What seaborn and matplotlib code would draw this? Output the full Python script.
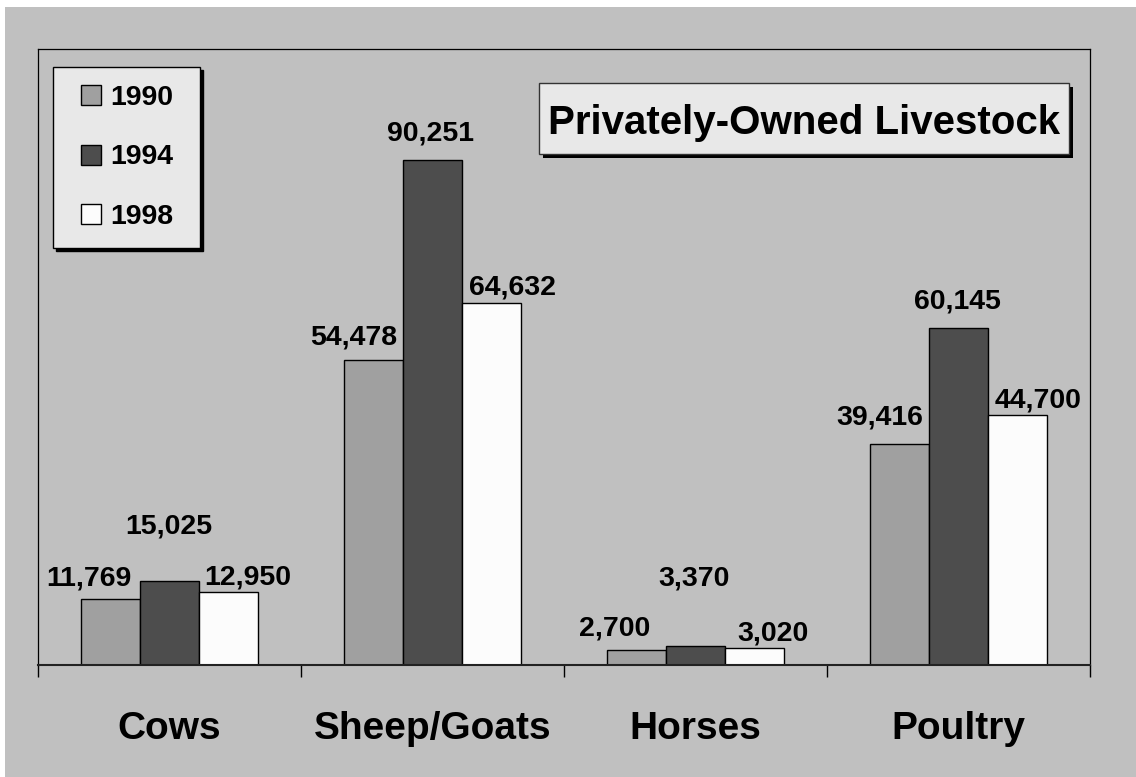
import matplotlib
matplotlib.use("Agg")
import matplotlib.pyplot as plt
import matplotlib.patches as mpatches
from matplotlib.legend_handler import HandlerPatch
from matplotlib.ticker import FixedLocator
import seaborn as sns
import pandas as pd

# ---------------- data ----------------
animals = ["Cows", "Sheep/Goats", "Horses", "Poultry"]
years = ["1990", "1994", "1998"]
counts_1990 = [11769, 54478, 2700, 39416]
counts_1994 = [15025, 90251, 3370, 60145]
counts_1998 = [12950, 64632, 3020, 44700]
title_text = "Privately-Owned Livestock"

# ---------------- style ----------------
colors = {"1990": "#a0a0a0", "1994": "#4d4d4d", "1998": "#fcfcfc"}
BG = "#c0c0c0"
BOX = "#e8e8e8"
# label offsets in pixels (dx, baseline height above bar top), per year then per animal
label_dx = {"1990": [-22, -20, -22, -20], "1994": [-1, -2, -1, -1], "1998": [20, 21, 19, 21]}
label_dy = {"1990": [14, 15, 14, 20], "1994": [47, 19, 61, 20], "1998": [8, 9, 8, 7]}

W, H = 1136, 777
PX = 0.72  # points per pixel at dpi 100

sns.set_style("white")
plt.rcParams["font.family"] = ["Liberation Sans", "DejaVu Sans"]
plt.rcParams["font.weight"] = "bold"
plt.rcParams["text.color"] = "black"
plt.rcParams["xtick.color"] = "black"
plt.rcParams["xtick.labelcolor"] = "black"

df = pd.DataFrame({
    "animal": animals * 3,
    "year": [y for y in years for _ in animals],
    "count": counts_1990 + counts_1994 + counts_1998,
})

fig = plt.figure(figsize=(W / 100, H / 100), dpi=100)
fig.patch.set_facecolor("white")
fig.add_artist(mpatches.Rectangle((5 / W, 0), 1 - 5 / W, (H - 7) / H,
                                  transform=fig.transFigure, facecolor=BG,
                                  edgecolor="none", zorder=-10))

ax = fig.add_axes([38 / W, (H - 665) / H, (1090 - 38) / W, (665 - 49) / H])
ax.set_facecolor(BG)

sns.barplot(data=df, x="animal", y="count", hue="year", order=animals,
            hue_order=years, palette=colors, saturation=1, width=0.67,
            edgecolor="black", linewidth=1.0, ax=ax)

ax.set_ylim(0, 110000)
ax.set_xlim(-0.5, len(animals) - 0.5)
ax.set_yticks([])
ax.set_xlabel("")
ax.set_ylabel("")
for s in ax.spines.values():
    s.set_visible(True)
    s.set_color("black")
    s.set_linewidth(0.9)
ax.spines["bottom"].set_linewidth(1.5)
ax.spines["bottom"].set_color("#222222")

ax.set_xticks(range(len(animals)))
ax.set_xticklabels(animals, fontsize=28, fontweight="bold", color="black")
ax.xaxis.set_minor_locator(FixedLocator([i - 0.5 for i in range(len(animals) + 1)]))
ax.tick_params(axis="x", which="major", length=0, pad=33, labelcolor="black")
ax.tick_params(axis="x", which="minor", length=12 * PX, width=1, color="black",
               direction="out", bottom=True)

# value labels
for year, cont in zip(years, ax.containers):
    for i, bar in enumerate(cont):
        val = bar.get_height()
        ax.annotate(f"{int(round(val)):,}",
                    (bar.get_x() + bar.get_width() / 2, val),
                    xytext=(label_dx[year][i] * PX, label_dy[year][i] * PX),
                    textcoords="offset points", ha="center", va="baseline",
                    fontsize=20.5, fontweight="bold", color="black",
                    annotation_clip=False)

# legend
def square_patch(legend, orig_handle, xdescent, ydescent, width, height, fontsize):
    s = 20 * PX
    return mpatches.Rectangle((-xdescent + width - s, -ydescent + (height - s) / 2), s, s)

handles, labels = ax.get_legend_handles_labels()
for h in handles:
    h.set_edgecolor("black")
    h.set_linewidth(1.0)
hp = HandlerPatch(patch_func=square_patch)
leg = ax.legend(handles, labels, loc="upper left",
                bbox_to_anchor=(53 / W, 1 - 67 / H, 147 / W, 0),
                bbox_transform=fig.transFigure, mode="expand", borderaxespad=0,
                prop={"size": 20.5, "weight": "bold"}, frameon=True, fancybox=False,
                facecolor=BOX, edgecolor="black", framealpha=1,
                shadow={"color": "black", "alpha": 1},
                handlelength=1.04, handleheight=0.72, handletextpad=0.34,
                borderpad=0.64, labelspacing=1.16,
                handler_map={mpatches.Patch: hp, mpatches.Rectangle: hp})
leg.get_frame().set_linewidth(1.0)
for t in leg.get_texts():
    t.set_color("black")

# title box with shadow
bx0, by0, bx1, by1 = 539, 83, 1069, 154
fig.add_artist(mpatches.Rectangle(((bx0 + 4) / W, 1 - (by1 + 4) / H), (bx1 - bx0) / W,
                                  (by1 - by0) / H, transform=fig.transFigure,
                                  facecolor="black", edgecolor="none", zorder=3))
fig.add_artist(mpatches.Rectangle((bx0 / W, 1 - by1 / H), (bx1 - bx0) / W,
                                  (by1 - by0) / H, transform=fig.transFigure,
                                  facecolor=BOX, edgecolor="#333333", linewidth=1.0,
                                  zorder=4))
fig.text((bx0 + bx1) / 2 / W, 1 - 134 / H, title_text, ha="center", va="baseline",
         fontsize=29, fontweight="bold", color="black", zorder=5)

fig.savefig("out.png", dpi=100, facecolor=fig.get_facecolor())
